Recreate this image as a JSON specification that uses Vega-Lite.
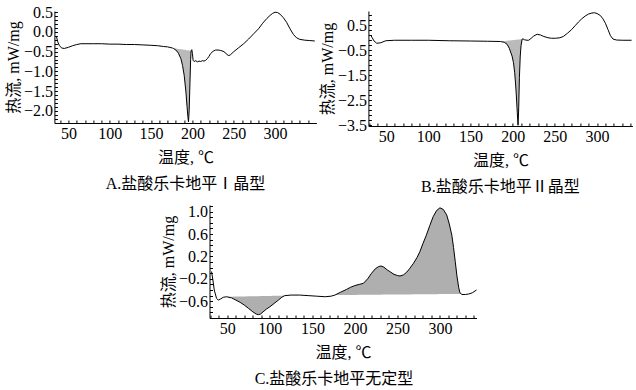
{
  "$schema": "https://vega.github.io/schema/vega-lite/v6.json",
  "background": "white",
  "padding": {"left": 5, "top": 4, "right": 0, "bottom": 0},
  "autosize": {"type": "pad"},
  "datasets": {
    "a_line": [
      {"t": 35.6, "v": -0.13}, {"t": 37, "v": -0.25}, {"t": 39, "v": -0.35}, {"t": 42, "v": -0.41}, {"t": 45, "v": -0.42},
      {"t": 50, "v": -0.39}, {"t": 55, "v": -0.35}, {"t": 60, "v": -0.32}, {"t": 65, "v": -0.30}, {"t": 70, "v": -0.30},
      {"t": 80, "v": -0.30}, {"t": 90, "v": -0.30}, {"t": 100, "v": -0.31}, {"t": 110, "v": -0.31}, {"t": 120, "v": -0.32},
      {"t": 130, "v": -0.32}, {"t": 140, "v": -0.33}, {"t": 150, "v": -0.34}, {"t": 158, "v": -0.35}, {"t": 165, "v": -0.37},
      {"t": 170, "v": -0.38}, {"t": 174, "v": -0.40}, {"t": 176, "v": -0.41}, {"t": 177, "v": -0.42}, {"t": 180, "v": -0.46},
      {"t": 183, "v": -0.54}, {"t": 186, "v": -0.68}, {"t": 188, "v": -0.85}, {"t": 190, "v": -1.1}, {"t": 192, "v": -1.5},
      {"t": 193.5, "v": -1.9}, {"t": 194.5, "v": -2.15}, {"t": 195.2, "v": -2.28}, {"t": 196, "v": -2.0}, {"t": 197, "v": -1.3},
      {"t": 197.8, "v": -0.7}, {"t": 198.4, "v": -0.48}, {"t": 199.2, "v": -0.45}, {"t": 200, "v": -0.55}, {"t": 200.8, "v": -0.72},
      {"t": 202, "v": -0.75}, {"t": 204, "v": -0.73}, {"t": 206, "v": -0.76}, {"t": 208, "v": -0.74}, {"t": 210, "v": -0.75},
      {"t": 212, "v": -0.73}, {"t": 214, "v": -0.74}, {"t": 216, "v": -0.72}, {"t": 218, "v": -0.68}, {"t": 220, "v": -0.62},
      {"t": 222, "v": -0.55}, {"t": 225, "v": -0.49}, {"t": 228, "v": -0.46}, {"t": 231, "v": -0.46}, {"t": 234, "v": -0.47},
      {"t": 237, "v": -0.49}, {"t": 240, "v": -0.53}, {"t": 242, "v": -0.58}, {"t": 244, "v": -0.60}, {"t": 246, "v": -0.58},
      {"t": 250, "v": -0.50}, {"t": 256, "v": -0.40}, {"t": 262, "v": -0.30}, {"t": 268, "v": -0.18}, {"t": 274, "v": -0.05},
      {"t": 280, "v": 0.08}, {"t": 285, "v": 0.22}, {"t": 290, "v": 0.34}, {"t": 294, "v": 0.42}, {"t": 297, "v": 0.47},
      {"t": 300, "v": 0.50}, {"t": 303, "v": 0.49}, {"t": 306, "v": 0.45}, {"t": 310, "v": 0.36}, {"t": 314, "v": 0.24},
      {"t": 318, "v": 0.08}, {"t": 322, "v": -0.06}, {"t": 326, "v": -0.15}, {"t": 330, "v": -0.19}, {"t": 336, "v": -0.21},
      {"t": 342, "v": -0.22}, {"t": 348, "v": -0.23}
    ],
    "a_fill": [
      {"t": 176, "v": -0.41, "base": -0.41}, {"t": 177, "v": -0.42, "base": -0.413}, {"t": 180, "v": -0.46, "base": -0.4225},
      {"t": 183, "v": -0.54, "base": -0.432}, {"t": 186, "v": -0.68, "base": -0.441}, {"t": 188, "v": -0.85, "base": -0.4475},
      {"t": 190, "v": -1.1, "base": -0.454}, {"t": 192, "v": -1.5, "base": -0.46}, {"t": 193.5, "v": -1.9, "base": -0.465},
      {"t": 194.5, "v": -2.15, "base": -0.468}, {"t": 195.2, "v": -2.28, "base": -0.47}, {"t": 196, "v": -2.0, "base": -0.4725},
      {"t": 197, "v": -1.3, "base": -0.476}, {"t": 197.8, "v": -0.7, "base": -0.4775}, {"t": 198.4, "v": -0.48, "base": -0.48}
    ],
    "b_line": [
      {"t": 31.8, "v": 0.10}, {"t": 33.5, "v": 0.0}, {"t": 35.7, "v": -0.13}, {"t": 38.9, "v": -0.22}, {"t": 43.6, "v": -0.20},
      {"t": 49.5, "v": -0.12}, {"t": 60, "v": -0.10}, {"t": 80, "v": -0.10}, {"t": 100, "v": -0.10}, {"t": 125, "v": -0.12},
      {"t": 150, "v": -0.13}, {"t": 170, "v": -0.14}, {"t": 185.5, "v": -0.15}, {"t": 190, "v": -0.18}, {"t": 193.4, "v": -0.26},
      {"t": 196, "v": -0.42}, {"t": 199.3, "v": -0.73}, {"t": 201, "v": -1.0}, {"t": 202.4, "v": -1.4}, {"t": 203.5, "v": -1.85},
      {"t": 204.4, "v": -2.33}, {"t": 205.5, "v": -3.0}, {"t": 206.4, "v": -3.5}, {"t": 207.2, "v": -2.8}, {"t": 208, "v": -1.6},
      {"t": 209, "v": -0.73}, {"t": 210, "v": -0.3}, {"t": 211.3, "v": -0.05}, {"t": 212, "v": -0.04}, {"t": 214, "v": -0.08},
      {"t": 217, "v": -0.10}, {"t": 219, "v": -0.10}, {"t": 222, "v": -0.02}, {"t": 225, "v": 0.07}, {"t": 229, "v": 0.14},
      {"t": 233, "v": 0.11}, {"t": 237, "v": 0.05}, {"t": 242, "v": 0.0}, {"t": 246, "v": -0.02}, {"t": 251, "v": -0.02},
      {"t": 256, "v": 0.0}, {"t": 260, "v": 0.05}, {"t": 265, "v": 0.18}, {"t": 270, "v": 0.33}, {"t": 274, "v": 0.48},
      {"t": 278, "v": 0.63}, {"t": 282, "v": 0.76}, {"t": 286, "v": 0.87}, {"t": 290, "v": 0.95}, {"t": 294, "v": 0.99},
      {"t": 297, "v": 1.0}, {"t": 300, "v": 0.97}, {"t": 304, "v": 0.89}, {"t": 307, "v": 0.76}, {"t": 310, "v": 0.58},
      {"t": 313, "v": 0.33}, {"t": 316, "v": 0.08}, {"t": 319, "v": -0.05}, {"t": 323, "v": -0.09}, {"t": 330, "v": -0.10},
      {"t": 341, "v": -0.10}
    ],
    "b_fill": [
      {"t": 185.5, "v": -0.15, "base": -0.15}, {"t": 190, "v": -0.18, "base": -0.137}, {"t": 193.4, "v": -0.26, "base": -0.12},
      {"t": 196, "v": -0.42, "base": -0.11}, {"t": 199.3, "v": -0.73, "base": -0.098}, {"t": 201, "v": -1.0, "base": -0.092},
      {"t": 202.4, "v": -1.4, "base": -0.086}, {"t": 203.5, "v": -1.85, "base": -0.082}, {"t": 204.4, "v": -2.33, "base": -0.079},
      {"t": 205.5, "v": -3.0, "base": -0.075}, {"t": 206.4, "v": -3.5, "base": -0.071}, {"t": 207.2, "v": -2.8, "base": -0.068},
      {"t": 208, "v": -1.6, "base": -0.065}, {"t": 209, "v": -0.73, "base": -0.062}, {"t": 210, "v": -0.3, "base": -0.058},
      {"t": 211.3, "v": -0.05, "base": -0.05}
    ],
    "c_line": [
      {"t": 31.4, "v": -0.07}, {"t": 33, "v": -0.22}, {"t": 34.6, "v": -0.40}, {"t": 37.3, "v": -0.55}, {"t": 39.3, "v": -0.58},
      {"t": 42, "v": -0.56}, {"t": 45.2, "v": -0.53}, {"t": 49, "v": -0.52}, {"t": 55, "v": -0.54}, {"t": 60, "v": -0.58},
      {"t": 65, "v": -0.62}, {"t": 70, "v": -0.67}, {"t": 75, "v": -0.73}, {"t": 80, "v": -0.79}, {"t": 84, "v": -0.83},
      {"t": 86.5, "v": -0.84}, {"t": 89, "v": -0.83}, {"t": 92, "v": -0.79}, {"t": 96, "v": -0.74}, {"t": 100, "v": -0.70},
      {"t": 105, "v": -0.64}, {"t": 110, "v": -0.58}, {"t": 114, "v": -0.53}, {"t": 117.5, "v": -0.50}, {"t": 125, "v": -0.49},
      {"t": 135, "v": -0.49}, {"t": 145, "v": -0.50}, {"t": 155, "v": -0.51}, {"t": 165, "v": -0.52}, {"t": 172, "v": -0.51},
      {"t": 176.5, "v": -0.49}, {"t": 183, "v": -0.44}, {"t": 190, "v": -0.39}, {"t": 195, "v": -0.35}, {"t": 200, "v": -0.32},
      {"t": 205, "v": -0.30}, {"t": 210, "v": -0.28}, {"t": 215, "v": -0.20}, {"t": 219.6, "v": -0.10}, {"t": 224, "v": -0.02},
      {"t": 228, "v": 0.02}, {"t": 230.6, "v": 0.03}, {"t": 234, "v": 0.01}, {"t": 238, "v": -0.04}, {"t": 241, "v": -0.07},
      {"t": 246, "v": -0.12}, {"t": 250, "v": -0.14}, {"t": 253, "v": -0.15}, {"t": 257, "v": -0.13}, {"t": 261, "v": -0.08},
      {"t": 264.7, "v": -0.01}, {"t": 269, "v": 0.08}, {"t": 273, "v": 0.18}, {"t": 276.5, "v": 0.29}, {"t": 280, "v": 0.43},
      {"t": 284, "v": 0.58}, {"t": 288, "v": 0.75}, {"t": 292, "v": 0.91}, {"t": 296, "v": 1.02}, {"t": 300, "v": 1.07},
      {"t": 304, "v": 1.04}, {"t": 308, "v": 0.94}, {"t": 311, "v": 0.78}, {"t": 314, "v": 0.58}, {"t": 316, "v": 0.36},
      {"t": 318, "v": 0.11}, {"t": 320, "v": -0.15}, {"t": 322, "v": -0.35}, {"t": 323.5, "v": -0.45}, {"t": 326, "v": -0.48},
      {"t": 330, "v": -0.48}, {"t": 334, "v": -0.47}, {"t": 338, "v": -0.45}, {"t": 343, "v": -0.40}
    ],
    "c_fill": [
      {"seg": 1, "t": 49, "v": -0.52, "base": -0.52}, {"seg": 1, "t": 55, "v": -0.54, "base": -0.518}, {"seg": 1, "t": 60, "v": -0.58, "base": -0.517},
      {"seg": 1, "t": 65, "v": -0.62, "base": -0.515}, {"seg": 1, "t": 70, "v": -0.67, "base": -0.514}, {"seg": 1, "t": 75, "v": -0.73, "base": -0.512},
      {"seg": 1, "t": 80, "v": -0.79, "base": -0.511}, {"seg": 1, "t": 84, "v": -0.83, "base": -0.51}, {"seg": 1, "t": 86.5, "v": -0.84, "base": -0.509},
      {"seg": 1, "t": 89, "v": -0.83, "base": -0.508}, {"seg": 1, "t": 92, "v": -0.79, "base": -0.507}, {"seg": 1, "t": 96, "v": -0.74, "base": -0.506},
      {"seg": 1, "t": 100, "v": -0.70, "base": -0.505}, {"seg": 1, "t": 105, "v": -0.64, "base": -0.504}, {"seg": 1, "t": 110, "v": -0.58, "base": -0.502},
      {"seg": 1, "t": 114, "v": -0.53, "base": -0.501}, {"seg": 1, "t": 117.5, "v": -0.50, "base": -0.50},
      {"seg": 2, "t": 176.5, "v": -0.49, "base": -0.49}, {"seg": 2, "t": 183, "v": -0.44, "base": -0.489}, {"seg": 2, "t": 190, "v": -0.39, "base": -0.488},
      {"seg": 2, "t": 195, "v": -0.35, "base": -0.487}, {"seg": 2, "t": 200, "v": -0.32, "base": -0.487}, {"seg": 2, "t": 205, "v": -0.30, "base": -0.486},
      {"seg": 2, "t": 210, "v": -0.28, "base": -0.485}, {"seg": 2, "t": 215, "v": -0.20, "base": -0.485}, {"seg": 2, "t": 219.6, "v": -0.10, "base": -0.484},
      {"seg": 2, "t": 224, "v": -0.02, "base": -0.484}, {"seg": 2, "t": 228, "v": 0.02, "base": -0.483}, {"seg": 2, "t": 230.6, "v": 0.03, "base": -0.483},
      {"seg": 2, "t": 234, "v": 0.01, "base": -0.482}, {"seg": 2, "t": 238, "v": -0.04, "base": -0.482}, {"seg": 2, "t": 241, "v": -0.07, "base": -0.481},
      {"seg": 2, "t": 246, "v": -0.12, "base": -0.481}, {"seg": 2, "t": 250, "v": -0.14, "base": -0.48}, {"seg": 2, "t": 253, "v": -0.15, "base": -0.48},
      {"seg": 2, "t": 257, "v": -0.13, "base": -0.479}, {"seg": 2, "t": 261, "v": -0.08, "base": -0.479}, {"seg": 2, "t": 264.7, "v": -0.01, "base": -0.478},
      {"seg": 2, "t": 269, "v": 0.08, "base": -0.477}, {"seg": 2, "t": 273, "v": 0.18, "base": -0.477}, {"seg": 2, "t": 276.5, "v": 0.29, "base": -0.476},
      {"seg": 2, "t": 280, "v": 0.43, "base": -0.476}, {"seg": 2, "t": 284, "v": 0.58, "base": -0.475}, {"seg": 2, "t": 288, "v": 0.75, "base": -0.475},
      {"seg": 2, "t": 292, "v": 0.91, "base": -0.474}, {"seg": 2, "t": 296, "v": 1.02, "base": -0.474}, {"seg": 2, "t": 300, "v": 1.07, "base": -0.473},
      {"seg": 2, "t": 304, "v": 1.04, "base": -0.473}, {"seg": 2, "t": 308, "v": 0.94, "base": -0.472}, {"seg": 2, "t": 311, "v": 0.78, "base": -0.472},
      {"seg": 2, "t": 314, "v": 0.58, "base": -0.471}, {"seg": 2, "t": 316, "v": 0.36, "base": -0.471}, {"seg": 2, "t": 318, "v": 0.11, "base": -0.471},
      {"seg": 2, "t": 320, "v": -0.15, "base": -0.47}, {"seg": 2, "t": 322, "v": -0.35, "base": -0.47}, {"seg": 2, "t": 323.5, "v": -0.45, "base": -0.47}
    ]
  },
  "vconcat": [
    {
      "hconcat": [
        {
          "width": 262,
          "height": 112,
          "title": {"text": "A.盐酸乐卡地平Ⅰ晶型", "orient": "bottom", "frame": "group", "anchor": "middle", "offset": 11},
          "encoding": {
            "x": {"field": "t", "type": "quantitative", "title": "温度, ℃",
              "scale": {"domain": [33, 350], "nice": false, "zero": false},
              "axis": {"values": [40, 50, 60, 70, 80, 90, 100, 110, 120, 130, 140, 150, 160, 170, 180, 190, 200, 210, 220, 230, 240, 250, 260, 270, 280, 290, 300, 310, 320, 330, 340],
                "labelExpr": "datum.value % 50 === 0 ? datum.label : ''"}},
            "y": {"field": "v", "type": "quantitative", "title": "热流, mW/mg",
              "scale": {"domain": [-2.31, 0.53], "nice": false, "zero": false},
              "axis": {"values": [0.5, 0.4, 0.3, 0.2, 0.1, 0, -0.1, -0.2, -0.3, -0.4, -0.5, -0.6, -0.7, -0.8, -0.9, -1, -1.1, -1.2, -1.3, -1.4, -1.5, -1.6, -1.7, -1.8, -1.9, -2, -2.1, -2.2, -2.3],
                "labelExpr": "abs(datum.value*2 - round(datum.value*2)) < 0.01 ? format(datum.value, '.1f') : ''"}}
          },
          "layer": [
            {"data": {"name": "a_fill"}, "mark": {"type": "area", "fill": "#b2b2b2", "opacity": 0.9}, "encoding": {"y2": {"field": "base"}}},
            {"data": {"name": "a_line"}, "mark": {"type": "line", "color": "#000", "strokeWidth": 1}}
          ]
        },
        {
          "width": 264,
          "height": 115,
          "title": {"text": "B.盐酸乐卡地平Ⅱ晶型", "orient": "bottom", "frame": "group", "anchor": "middle", "offset": 11},
          "encoding": {
            "x": {"field": "t", "type": "quantitative", "title": "温度, ℃",
              "scale": {"domain": [29, 342], "nice": false, "zero": false},
              "axis": {"values": [30, 40, 50, 60, 70, 80, 90, 100, 110, 120, 130, 140, 150, 160, 170, 180, 190, 200, 210, 220, 230, 240, 250, 260, 270, 280, 290, 300, 310, 320, 330, 340],
                "labelExpr": "datum.value % 50 === 0 ? datum.label : ''"}},
            "y": {"field": "v", "type": "quantitative", "title": "热流, mW/mg",
              "scale": {"domain": [-3.53, 1.07], "nice": false, "zero": false},
              "axis": {"values": [-3.5, -3.3, -3.1, -2.9, -2.7, -2.5, -2.3, -2.1, -1.9, -1.7, -1.5, -1.3, -1.1, -0.9, -0.7, -0.5, -0.3, -0.1, 0.1, 0.3, 0.5, 0.7, 0.9],
                "labelExpr": "abs((datum.value+0.5) - round(datum.value+0.5)) < 0.01 ? format(datum.value, '.1f') : ''"}}
          },
          "layer": [
            {"data": {"name": "b_fill"}, "mark": {"type": "area", "fill": "#b2b2b2", "opacity": 0.9}, "encoding": {"y2": {"field": "base"}}},
            {"data": {"name": "b_line"}, "mark": {"type": "line", "color": "#000", "strokeWidth": 1}}
          ]
        }
      ],
      "spacing": 1
    },
    {
      "width": 267,
      "height": 113,
      "title": {"text": "C.盐酸乐卡地平无定型", "orient": "bottom", "frame": "group", "anchor": "middle", "offset": 11, "dx": -9},
      "encoding": {
        "x": {"field": "t", "type": "quantitative", "title": "温度, ℃",
          "scale": {"domain": [29, 343], "nice": false, "zero": false},
          "axis": {"values": [30, 40, 50, 60, 70, 80, 90, 100, 110, 120, 130, 140, 150, 160, 170, 180, 190, 200, 210, 220, 230, 240, 250, 260, 270, 280, 290, 300, 310, 320, 330, 340],
            "labelExpr": "datum.value % 50 === 0 ? datum.label : ''"}},
        "y": {"field": "v", "type": "quantitative", "title": "热流, mW/mg",
          "scale": {"domain": [-0.9, 1.12], "nice": false, "zero": false},
          "axis": {"values": [-0.9, -0.8, -0.7, -0.6, -0.5, -0.4, -0.3, -0.2, -0.1, 0, 0.1, 0.2, 0.3, 0.4, 0.5, 0.6, 0.7, 0.8, 0.9, 1.0, 1.1],
            "labelExpr": "abs((datum.value+0.2)/0.4 - round((datum.value+0.2)/0.4)) < 0.01 ? format(datum.value, '.1f') : ''"}}
      },
      "layer": [
        {"data": {"name": "c_fill"}, "mark": {"type": "area", "fill": "#a6a6a6", "opacity": 0.9}, "encoding": {"y2": {"field": "base"}, "detail": {"field": "seg", "type": "nominal"}}},
        {"data": {"name": "c_line"}, "mark": {"type": "line", "color": "#000", "strokeWidth": 1}}
      ]
    }
  ],
  "spacing": 3,
  "center": true,
  "config": {
    "view": {"stroke": null},
    "font": "Liberation Serif, Noto Sans CJK SC",
    "axis": {
      "labelFont": "Liberation Serif, Noto Sans CJK SC",
      "labelFontSize": 16,
      "labelColor": "#000",
      "titleFont": "Liberation Serif, Noto Sans CJK SC",
      "titleFontSize": 16,
      "titleFontWeight": "normal",
      "titleColor": "#000",
      "domainColor": "#000",
      "tickColor": "#000",
      "grid": false,
      "tickSize": -3,
      "labelPadding": 5,
      "labelOverlap": false,
      "labelFlush": false
    },
    "axisX": {"titlePadding": 8},
    "axisY": {"titlePadding": 2},
    "title": {"font": "Liberation Serif, Noto Sans CJK SC", "fontSize": 16, "fontWeight": "normal", "color": "#000"}
  }
}
